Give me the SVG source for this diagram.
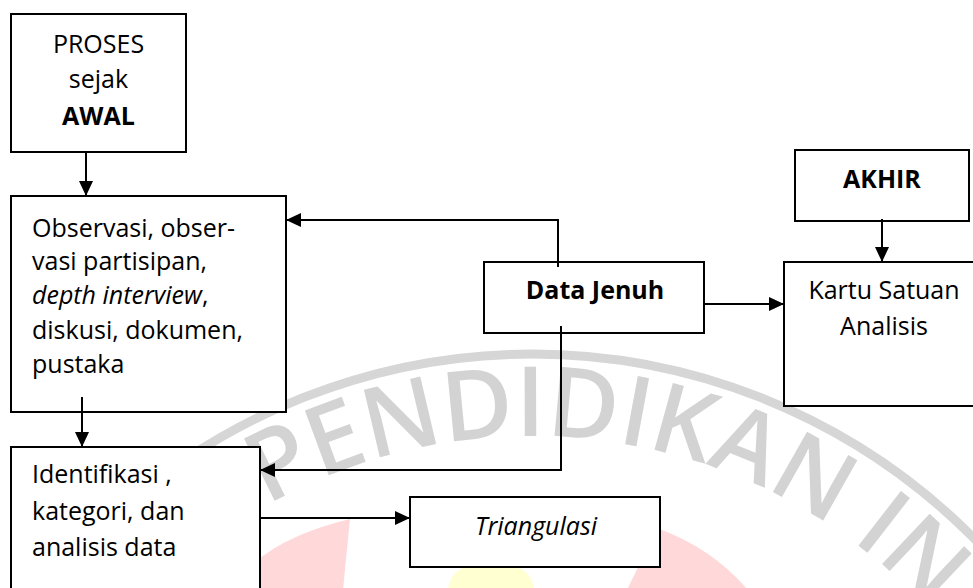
<svg xmlns="http://www.w3.org/2000/svg" width="973" height="588" viewBox="0 0 973 588">
  <defs>
    <style>
      .box { fill: #ffffff; stroke: #000000; stroke-width: 2; }
      .lbl { font-family: "Open Sans", "Noto Sans", sans-serif; font-size: 25px; fill: #000000; }
      .mid { text-anchor: middle; }
      .b { font-weight: bold; }
      .i { font-style: italic; }
      .conn { fill: none; stroke: #000000; stroke-width: 2; marker-end: url(#arrow); }
      .wm-text { font-family: "Open Sans", "Noto Sans", sans-serif; font-size: 97px; font-weight: 600; fill: #d3d3d3; letter-spacing: 0px; }
    </style>
    <marker id="arrow" markerUnits="userSpaceOnUse" markerWidth="16" markerHeight="14" refX="15" refY="7" orient="auto">
      <path d="M0,0 L15,7 L0,14 Z" fill="#000000"/>
    </marker>
    <path id="wm-arc" d="M184.9,562.4 A540,540 0 0 1 1053.6,836.2"/>
  </defs>

  <rect width="973" height="588" fill="#ffffff"/>

  <!-- background seal -->
  <g id="seal">
    <circle cx="532" cy="976" r="622" fill="none" stroke="#d6d6d6" stroke-width="9"/>
    <text class="wm-text"><textPath href="#wm-arc" startOffset="100">PENDIDIKAN IN</textPath></text>
    <path d="M350,519 L343,590 L230,590 Q262,540 350,519 Z" fill="#ffd9d9"/>
    <path d="M657,528 L627,590 L748,590 Q712,548 657,528 Z" fill="#ffd9d9"/>
    <path d="M448,590 Q450,563 491,562 Q532,563 534,590 Z" fill="#ffffd2"/>
  </g>

  <g id="proses">
    <rect class="box" x="11" y="14" width="175" height="138"/>
    <text class="lbl mid" x="98.5" y="53">PROSES</text>
    <text class="lbl mid" x="98.5" y="88">sejak</text>
    <text class="lbl mid b" x="98.5" y="125">AWAL</text>
  </g>

  <g id="observasi">
    <rect class="box" x="11" y="196" width="275" height="216"/>
    <text class="lbl" x="32" y="237">Observasi, obser-</text>
    <text class="lbl" x="32" y="270">vasi partisipan,</text>
    <text class="lbl" x="32" y="304"><tspan class="i">depth interview</tspan>,</text>
    <text class="lbl" x="32" y="339">diskusi, dokumen,</text>
    <text class="lbl" x="32" y="373">pustaka</text>
  </g>

  <g id="identifikasi">
    <rect class="box" x="11" y="447" width="249" height="160"/>
    <text class="lbl" x="32" y="483">Identifikasi ,</text>
    <text class="lbl" x="32" y="520">kategori, dan</text>
    <text class="lbl" x="32" y="556">analisis data</text>
  </g>

  <g id="data-jenuh">
    <rect class="box" x="484" y="262" width="220" height="71"/>
    <text class="lbl mid b" x="595" y="299">Data Jenuh</text>
  </g>

  <g id="akhir">
    <rect class="box" x="795" y="150" width="174" height="71"/>
    <text class="lbl mid b" x="882" y="188">AKHIR</text>
  </g>

  <g id="kartu">
    <rect class="box" x="784" y="262" width="200" height="144"/>
    <text class="lbl mid" x="884" y="299">Kartu Satuan</text>
    <text class="lbl mid" x="884" y="335">Analisis</text>
  </g>

  <g id="triangulasi">
    <rect class="box" x="410" y="497" width="250" height="70"/>
    <text class="lbl mid i" x="536" y="535">Triangulasi</text>
  </g>

  <g id="connectors">
    <path class="conn" d="M86,152 V196"/>
    <path class="conn" d="M82,397 V447"/>
    <path class="conn" d="M558,267 V220 H286"/>
    <path class="conn" d="M561,326 V470 H260"/>
    <path class="conn" d="M704,304 H784"/>
    <path class="conn" d="M260,518 H410"/>
    <path class="conn" d="M882,219 V262"/>
  </g>
</svg>
